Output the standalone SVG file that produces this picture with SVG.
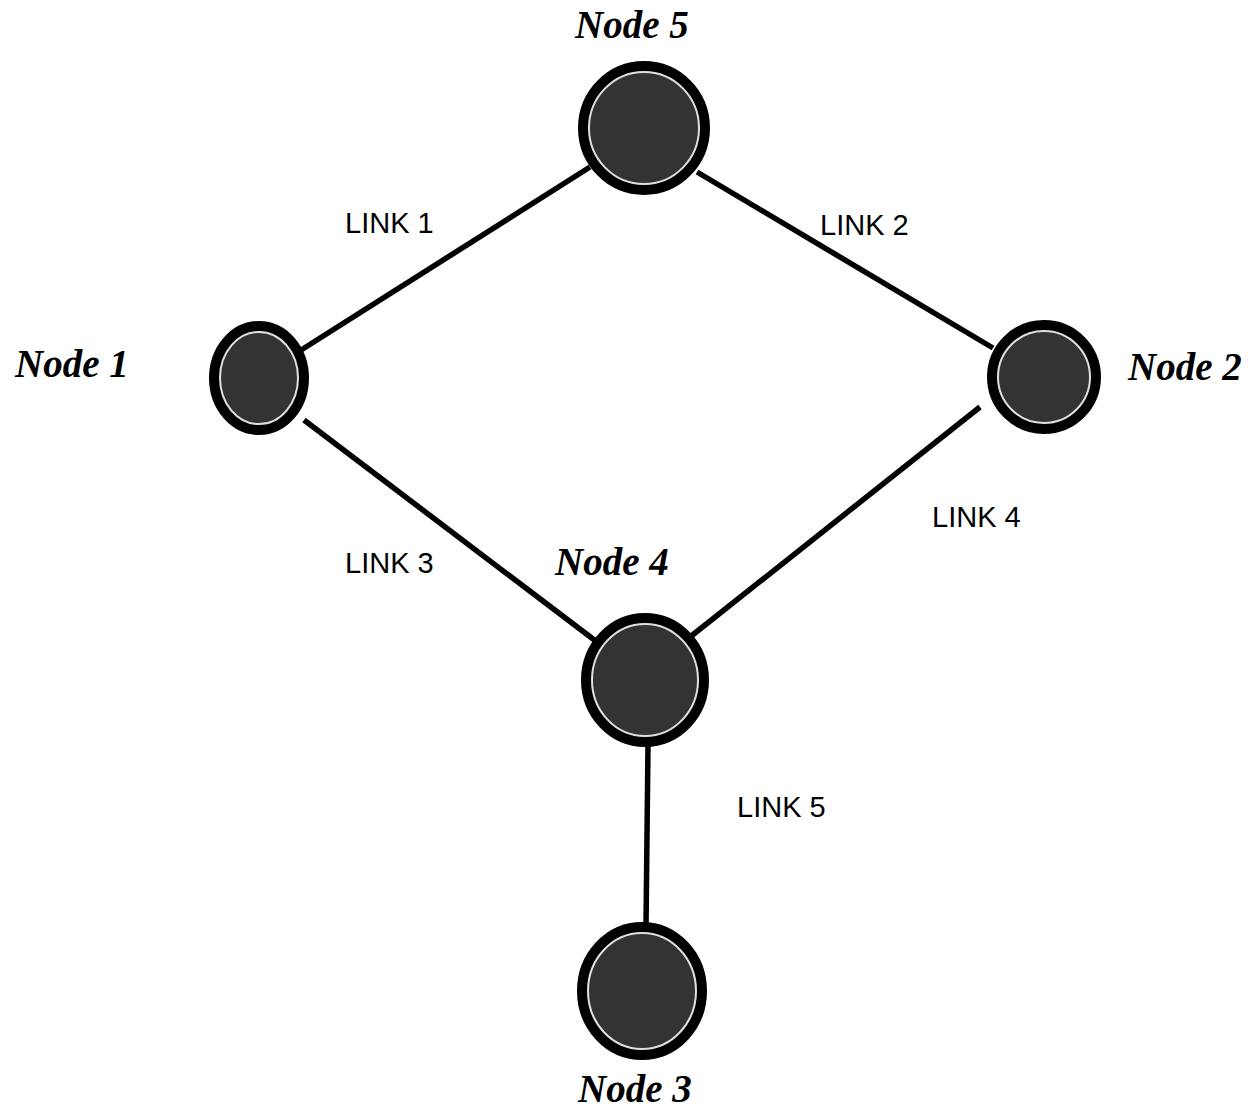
<svg xmlns="http://www.w3.org/2000/svg" width="1248" height="1115" viewBox="0 0 1248 1115">
<style>
.ring{fill:#111;stroke:#000;stroke-width:10}
.core{fill:#333;stroke:#e0e0e0;stroke-width:2}
.lnk{stroke:#000;stroke-width:5.5;stroke-linecap:butt;fill:none}
.nl{font-family:"Liberation Serif",serif;font-weight:bold;font-style:italic;font-size:39px;fill:#000}
.ll{font-family:"Liberation Sans",Arial,sans-serif;font-size:29px;fill:#000}
</style>
<rect width="1248" height="1115" fill="#fff"/>
<g id="connectors">
<line class="lnk" x1="298" y1="352" x2="590" y2="167"/>
<line class="lnk" x1="697" y1="172" x2="993" y2="348"/>
<line class="lnk" x1="304" y1="420" x2="597" y2="642"/>
<line class="lnk" x1="980" y1="407" x2="690" y2="637"/>
<line class="lnk" x1="648" y1="745" x2="646" y2="926"/>
</g>
<g id="node5">
<ellipse class="ring" cx="644" cy="128" rx="61" ry="62"/>
<ellipse class="core" cx="644" cy="128" rx="55" ry="56"/>
<text class="nl" x="575" y="38">Node 5</text>
</g>
<g id="node1">
<ellipse class="ring" cx="259" cy="378" rx="45" ry="52"/>
<ellipse class="core" cx="259" cy="378" rx="39" ry="46"/>
<text class="nl" x="15" y="377">Node 1</text>
</g>
<g id="node2">
<ellipse class="ring" cx="1044" cy="377" rx="52" ry="52"/>
<ellipse class="core" cx="1044" cy="377" rx="46" ry="46"/>
<text class="nl" x="1128" y="380">Node 2</text>
</g>
<g id="node4">
<ellipse class="ring" cx="645" cy="680" rx="59" ry="62"/>
<ellipse class="core" cx="645" cy="680" rx="53" ry="56"/>
<text class="nl" x="555" y="575">Node 4</text>
</g>
<g id="node3">
<ellipse class="ring" cx="642" cy="991" rx="60" ry="64"/>
<ellipse class="core" cx="642" cy="991" rx="54" ry="58"/>
<text class="nl" x="578" y="1102">Node 3</text>
</g>
<g id="labels">
<text class="ll" x="345" y="233">LINK 1</text>
<text class="ll" x="820" y="235">LINK 2</text>
<text class="ll" x="345" y="573">LINK 3</text>
<text class="ll" x="932" y="527">LINK 4</text>
<text class="ll" x="737" y="817">LINK 5</text>
</g>
</svg>
